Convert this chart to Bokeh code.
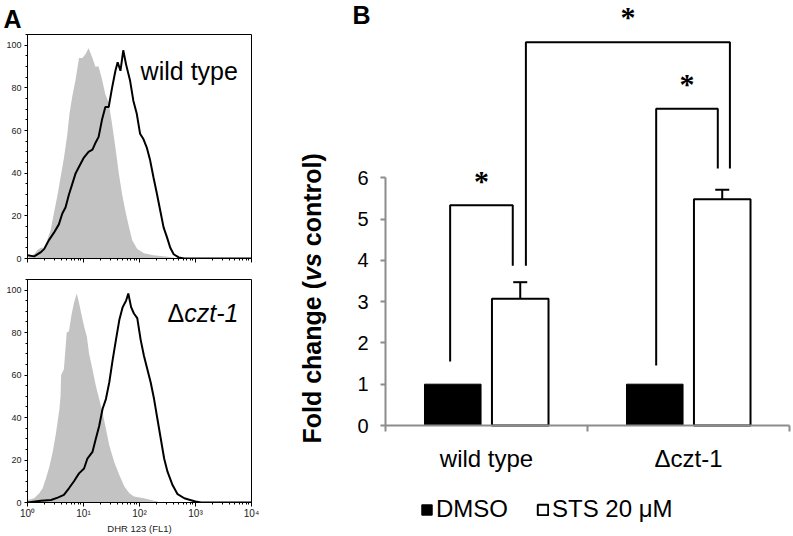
import math
from bokeh.plotting import figure
from bokeh.layouts import row, column
from bokeh.models import (Range1d, LinearAxis, FixedTicker, LogTicker, Title,
                          CustomJSTickFormatter, Label, LabelSet, ColumnDataSource, Whisker, TeeHead,
                          Legend, LegendItem)
from bokeh.transform import dodge
from bokeh.embed import file_html
from bokeh.resources import INLINE

FONT = "Liberation Sans"

# ---------------- Panel A data: DHR 123 (FL1) histograms (log10 of FL1, counts) ----------------
wt_dmso_log = [0.02, 0.12, 0.18, 0.24, 0.29, 0.35, 0.41, 0.47, 0.53, 0.59, 0.65, 0.71, 0.75, 0.80, 0.86,
               0.92, 0.98, 1.04, 1.09, 1.16, 1.21, 1.27, 1.33, 1.39, 1.45, 1.51, 1.57, 1.63, 1.69, 1.75,
               1.81, 1.87, 1.96, 2.08, 2.25, 2.50, 2.70, 4.0]
wt_dmso_cnt = [1, 2, 4, 5, 5, 8.5, 13, 21, 29, 38, 47, 58, 68, 76, 84,
               94, 94, 96, 98.6, 94, 90, 90, 84, 77, 73, 63, 52, 40, 30, 22,
               15, 8.5, 4.5, 2.5, 1.5, 0.8, 0, 0]

wt_sts_log = [0.0, 0.12, 0.24, 0.30, 0.38, 0.47, 0.56, 0.62, 0.68, 0.74, 0.80, 0.86, 0.92, 1.00, 1.09,
              1.16, 1.21, 1.27, 1.33, 1.39, 1.45, 1.51, 1.57, 1.61, 1.66, 1.71, 1.76, 1.83, 1.89, 1.95,
              2.01, 2.07, 2.13, 2.19, 2.25, 2.31, 2.37, 2.43, 2.49, 2.55, 2.61, 2.70, 2.80, 4.0]
wt_sts_cnt = [1.5, 1, 3, 4.5, 8.5, 12, 16, 21, 24, 30, 35, 40, 43, 47, 50,
              51, 54, 57, 65, 71, 71, 80, 88, 92, 88, 97.6, 91, 83.6, 74, 68,
              58.5, 56, 52, 46, 38, 30.5, 22.5, 14.6, 10, 5, 2, 0.5, 0, 0]

czt_dmso_log = [0.0, 0.12, 0.21, 0.27, 0.33, 0.39, 0.45, 0.51, 0.57, 0.59, 0.60, 0.65, 0.70, 0.74, 0.79,
                0.83, 0.88, 0.92, 0.96, 1.01, 1.06, 1.10, 1.16, 1.22, 1.28, 1.34, 1.40, 1.46, 1.55, 1.64,
                1.73, 1.82, 1.90, 2.08, 2.26, 2.40, 4.0]
czt_dmso_cnt = [1.2, 2, 4.4, 6.7, 11.4, 16.8, 23.8, 33, 44, 50, 60, 62.7, 80, 80.6, 89,
                94, 98.4, 94, 89, 83, 78, 70, 62.7, 55, 48.7, 42.5, 34.7, 27, 19, 13,
                7.5, 4.4, 2.8, 2, 0.8, 0, 0]

czt_sts_log = [0.0, 0.24, 0.42, 0.54, 0.65, 0.74, 0.83, 0.92, 1.01, 1.07, 1.16, 1.22, 1.28, 1.34, 1.40,
               1.46, 1.52, 1.58, 1.64, 1.70, 1.76, 1.80, 1.85, 1.90, 1.96, 2.02, 2.08, 2.14, 2.20, 2.26,
               2.32, 2.38, 2.44, 2.50, 2.59, 2.68, 2.80, 2.92, 3.00, 3.10, 4.0]
czt_sts_cnt = [0, 0.8, 1.2, 2.3, 3.6, 6.7, 10, 13.7, 16, 20.7, 23.8, 30, 36, 44, 48.7,
               56.5, 67, 76.7, 86, 92, 95, 98.4, 92, 89, 86.8, 76.7, 69, 62.7, 56.5, 48.7,
               39.3, 30, 20.7, 14.5, 8.2, 3.9, 2, 1.1, 0.5, 0, 0]

# ---------------- Panel B data ----------------
categories = ["wild type", "\u0394czt-1"]
dmso_fold = [1.0, 1.0]
sts_fold = [3.07, 5.48]
sts_err = [0.40, 0.23]
treatments = ["DMSO", "STS 20 \u03bcM"]


# ---------------- Panel A ----------------
SUP = "const s = {'0':'\u2070','1':'\u00b9','2':'\u00b2','3':'\u00b3','4':'\u2074'};" \
      "const e = Math.round(Math.log10(tick)); return '10' + s[String(e)];"


def hist_fig(dg, cg, db, cb, height, top, bottom, labels):
    p = figure(width=298, height=height, x_axis_type="log", x_range=Range1d(1, 1e4),
               y_range=Range1d(0, 105), output_backend="svg", toolbar_location=None,
               min_border_left=27, min_border_right=47, min_border_top=top, min_border_bottom=bottom)
    p.grid.visible = False
    p.outline_line_color = "black"
    p.outline_line_width = 1
    p.varea(x=[10 ** v for v in dg], y1=0, y2=cg, fill_color="#c3c3c3")
    p.line(x=[10 ** v for v in db], y=cb, line_color="black", line_width=2)

    ya = p.yaxis[0]
    ya.ticker = FixedTicker(ticks=[0, 20, 40, 60, 80, 100], minor_ticks=[5 * i for i in range(22)])
    ya.major_label_text_font_size = "9px"
    ya.major_label_text_font = FONT
    ya.major_label_text_color = "#222222"
    ya.major_tick_out = 3
    ya.major_tick_in = 0
    ya.minor_tick_out = 2
    ya.minor_tick_in = 0
    ya.major_label_standoff = 3
    ya.axis_line_color = "black"

    xa = p.xaxis[0]
    xa.ticker = LogTicker(desired_num_ticks=5, num_minor_ticks=10)
    xa.major_tick_out = 4
    xa.major_tick_in = 0
    xa.minor_tick_out = 2
    xa.minor_tick_in = 0
    xa.axis_line_color = "black"
    if labels:
        xa.formatter = CustomJSTickFormatter(code=SUP)
        xa.major_label_text_font_size = "10px"
        xa.major_label_text_font = FONT
        xa.major_label_text_color = "#222222"
        xa.major_label_standoff = 1
        xa.axis_label = "DHR 123 (FL1)"
        xa.axis_label_text_font = FONT
        xa.axis_label_text_font_size = "9.5px"
        xa.axis_label_text_font_style = "normal"
        xa.axis_label_text_color = "#222222"
        xa.axis_label_standoff = 1
    else:
        xa.formatter = CustomJSTickFormatter(code="return '';")
        xa.major_label_text_font_size = "0px"
        xa.major_label_standoff = 0
    return p


pa1 = hist_fig(wt_dmso_log, wt_dmso_cnt, wt_sts_log, wt_sts_cnt, 268, 34, 10, False)
pa2 = hist_fig(czt_dmso_log, czt_dmso_cnt, czt_sts_log, czt_sts_cnt, 268, 11, 32, True)

pa1.add_layout(Title(text="A", align="left", offset=-24, text_font=FONT, text_font_size="25px",
                     text_font_style="bold", text_color="black", standoff=3), "above")
pa1.add_layout(Label(x=10 ** 2.02, y=87.8, text="wild type", text_font=FONT, text_font_size="25px",
                     text_baseline="alphabetic", text_color="black"))
d_delta = 2.5
pa2.add_layout(Label(x=10 ** d_delta, y=89.3, text="\u0394", text_font=FONT, text_font_size="25px",
                     text_baseline="alphabetic", text_color="black"))
pa2.add_layout(Label(x=10 ** (d_delta + 0.668 * 25 / 56), y=89.3, text="czt-1", text_font=FONT,
                     text_font_size="25px", text_font_style="italic", text_baseline="alphabetic",
                     text_color="black"))

# ---------------- Panel B ----------------
BW_PX, BH_PX = 495, 536          # figure size (frame covers it all)
AX_X, AX_Y = 87, 425             # pixel position of the axes origin inside the figure
PXX, PXU = 202.0, 41.3           # pixels per category, pixels per fold unit
pb = figure(width=BW_PX, height=BH_PX,
            x_range=Range1d(-AX_X / PXX, (BW_PX - AX_X) / PXX),
            y_range=Range1d(-(BH_PX - AX_Y) / PXU, AX_Y / PXU),
            x_axis_location=None, y_axis_location=None, output_backend="svg",
            toolbar_location=None, min_border_left=0, min_border_right=0, min_border_top=0,
            min_border_bottom=0)
pb.grid.visible = False
pb.outline_line_color = None

GRAY = "#8c8c8c"
ncat = len(categories)
xc = [i + 0.5 for i in range(ncat)]

src = ColumnDataSource(dict(xc=xc, cat=categories, dmso=dmso_fold, sts=sts_fold,
                            hi=[v + e for v, e in zip(sts_fold, sts_err)]))
OFF = 0.167
BW = 0.28
r_dmso = pb.vbar(x=dodge("xc", -OFF), top="dmso", width=BW, source=src,
                 fill_color="black", line_color="black", line_width=1)
r_sts = pb.vbar(x=dodge("xc", OFF), top="sts", width=BW, source=src,
                fill_color="white", line_color="black", line_width=2)
pb.add_layout(Whisker(source=src, base=dodge("xc", OFF), lower="sts", upper="hi",
                      upper_head=TeeHead(size=14, line_width=2, line_color="black"), lower_head=None,
                      line_width=2, line_color="black"))

# axes fixed at the data origin
yax = LinearAxis(fixed_location=0, bounds=(0, 6), ticker=FixedTicker(ticks=list(range(7))),
                 axis_line_color=GRAY, axis_line_width=2, major_tick_line_color=GRAY,
                 major_tick_line_width=2, major_tick_out=5, major_tick_in=0, minor_tick_line_color=None,
                 major_label_text_font=FONT, major_label_text_font_size="20px",
                 major_label_text_color="black", major_label_standoff=12)
pb.add_layout(yax, "left")
bax = LinearAxis(fixed_location=0, bounds=(0, ncat), ticker=FixedTicker(ticks=list(range(ncat + 1))),
                 axis_line_color=GRAY, axis_line_width=2, major_tick_line_color=GRAY,
                 major_tick_line_width=2, major_tick_out=6, major_tick_in=0, minor_tick_line_color=None,
                 major_label_text_font_size="0px", major_label_standoff=0,
                 formatter=CustomJSTickFormatter(code="return '';"))
pb.add_layout(bax, "below")
cax = LinearAxis(fixed_location=0, ticker=FixedTicker(ticks=xc), axis_line_color=None,
                 major_tick_line_color=None, minor_tick_line_color=None, major_label_text_font=FONT,
                 major_label_text_font_size="24px", major_label_text_color="black",
                 major_label_standoff=13,
                 formatter=CustomJSTickFormatter(args=dict(cats=categories),
                                                 code="return cats[Math.floor(tick)];"))
pb.add_layout(cax, "below")

# significance brackets: (left cat, left offset, left bottom, right cat, right offset, right bottom, top)
ci = {c: i for i, c in enumerate(categories)}


def bx(cat, off):
    return xc[ci[cat]] + off


brackets = [
    ("wild type", -0.18, 1.55, "wild type", 0.13, 3.87, 5.33),
    ("\u0394czt-1", -0.16, 1.45, "\u0394czt-1", 0.145, 6.22, 7.67),
    ("wild type", 0.195, 3.87, "\u0394czt-1", 0.205, 6.22, 9.28),
]
xs, ys, sx, sy = [], [], [], []
for lc, lo, lb, rc, ro, rb, tp in brackets:
    xl, xr = bx(lc, lo), bx(rc, ro)
    xs.append([xl, xl, xr, xr])
    ys.append([lb, tp, tp, rb])
    sx.append((xl + xr) / 2)
    sy.append(tp + 0.36)
pb.multi_line(xs=xs, ys=ys, line_color="black", line_width=2)
pb.add_layout(LabelSet(source=ColumnDataSource(dict(x=sx, y=sy, t=["*"] * len(sx))), x="x", y="y",
                       text="t", text_align="center", text_baseline="alphabetic", text_font=FONT,
                       text_font_size="30px", text_font_style="bold", text_color="black"))

# rotated y-axis title with italic "vs"
FS = 25
y0 = -0.436
lx = -0.362
parts = [("Fold change (", "bold", 0.0), ("vs", "bold italic", 6.501),
         ("control)", "bold", 6.501 + 1.112 + 0.278)]
for txt, style, em in parts:
    pb.add_layout(Label(x=lx, y=y0 + em * FS / PXU, text=txt, angle=math.pi / 2, text_font=FONT,
                        text_font_size=f"{FS}px", text_font_style=style, text_baseline="alphabetic",
                        text_align="left", text_color="black"))

pb.add_layout(Label(x=-0.163, y=9.95, text="B", text_font=FONT, text_font_size="25px",
                    text_font_style="bold", text_baseline="alphabetic", text_color="black"))

legend = Legend(items=[LegendItem(label=treatments[0], renderers=[r_dmso]),
                       LegendItem(label=treatments[1], renderers=[r_sts])],
                orientation="horizontal", location=(122, 13), glyph_width=13, glyph_height=13,
                label_text_font=FONT, label_text_font_size="24px", label_standoff=3, spacing=28,
                label_text_color="black",
                padding=0, margin=0, border_line_color=None, background_fill_alpha=0)
pb.add_layout(legend)

layout = row(column(pa1, pa2), pb)
open("out.html", "w").write(file_html(layout, INLINE))
